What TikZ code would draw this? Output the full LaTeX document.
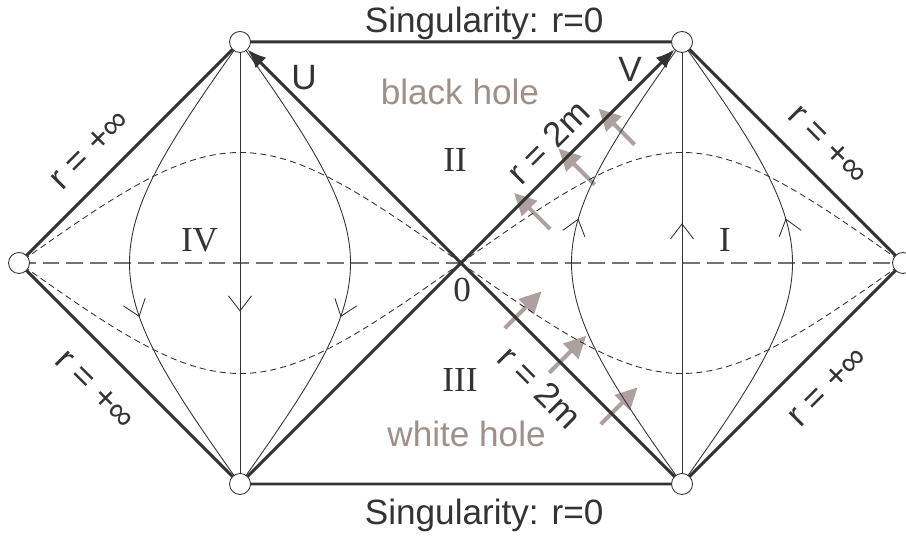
\documentclass[tikz,border=0pt]{standalone}
\usepackage{fontspec}
\setmainfont{Liberation Sans}
\newfontfamily\romfont{Liberation Serif}
\usetikzlibrary{arrows.meta,decorations.markings}

\definecolor{ink}{RGB}{51,51,51}
\definecolor{holecol}{RGB}{158,143,139}
\definecolor{flux}{RGB}{172,161,158}

\begin{document}
\begin{tikzpicture}[
  x=2.21cm,y=2.21cm,
  % event horizons and the boundary of the diagram
  horizon/.style={line width=1.7pt,draw=ink},
  world/.style={line width=0.5pt,draw=ink,color=ink},
  slice/.style={line width=0.5pt,draw=ink,dash pattern=on 3.5pt off 2.3pt},
  axis/.style={line width=0.7pt,draw=black!55,dash pattern=on 9.5pt off 4pt},
  flow/.style={postaction={decorate},decoration={markings,
    mark=at position #1 with {\arrow{Straight Barb[length=3mm,width=4.6mm]}}}},
  infall/.style={draw=flux,line width=2.3pt,-{Triangle[length=4.4mm,width=4.2mm]}},
  apex/.style={circle,draw=ink,line width=0.5pt,fill=white,minimum size=4.2mm,inner sep=0pt},
  lbl/.style={font=\fontsize{20}{24}\selectfont,text=ink,inner sep=0pt},
  num/.style={font=\fontsize{20}{24}\selectfont\romfont,text=ink,inner sep=0pt},
  hole/.style={lbl,text=holecol},
]
\useasboundingbox (-4.172,-2.489) rectangle (4.027,2.380);

%--- geometry ----------------------------------------------------------------
\def\cin{0.171573}     % r = const, inner hyperbola (crosses x=1)
\def\cout{5.828427}    % r = const, outer hyperbola (crosses x=3)
\def\kslice{0.171573}  % t = const slices, through (2,1) and (2,-1)

\coordinate (O)  at (0,0);
\coordinate (L)  at (-4,0);
\coordinate (R)  at (4,0);
\coordinate (TL) at (-2,2);
\coordinate (TR) at (2,2);
\coordinate (BL) at (-2,-2);
\coordinate (BR) at (2,-2);

%--- light rays crossing the horizons -----------------------------------------
\foreach \s in {0.557,0.959,1.321}
  \draw[infall] (\s+0.249,\s-0.249) -- (\s-0.077,\s+0.077);
\foreach \s in {0.493,0.896,1.362}
  \draw[infall] (\s-0.097,-\s-0.097) -- (\s+0.237,-\s+0.237);

%--- t = const slices ---------------------------------------------------------
\draw[axis] (L) -- (R);
\draw[slice] plot[domain=0:90,samples=150,variable=\th]
  ({(\th+atan2(\kslice*sin(\th),cos(\th)))/45},{(\th-atan2(\kslice*sin(\th),cos(\th)))/45});
\draw[slice] plot[domain=0:90,samples=150,variable=\th]
  ({(\th+atan2(\kslice*sin(\th),cos(\th)))/45},{(atan2(\kslice*sin(\th),cos(\th))-\th)/45});
\draw[slice] plot[domain=0:90,samples=150,variable=\th]
  ({-(\th+atan2(\kslice*sin(\th),cos(\th)))/45},{(\th-atan2(\kslice*sin(\th),cos(\th)))/45});
\draw[slice] plot[domain=0:90,samples=150,variable=\th]
  ({-(\th+atan2(\kslice*sin(\th),cos(\th)))/45},{(atan2(\kslice*sin(\th),cos(\th))-\th)/45});

%--- r = const world lines ----------------------------------------------------
% region I runs upwards, region IV downwards
\draw[world,flow=0.59] (BR) -- (TR);
\draw[world,flow=0.61] (TL) -- (BL);
\foreach \c in {\cin,\cout} {
  \draw[world,flow=0.59] plot[domain=0:90,samples=150,variable=\th]
    ({(\th+atan2(\c*cos(\th),sin(\th)))/45},{(\th-atan2(\c*cos(\th),sin(\th)))/45});
  \draw[world,flow=0.61] plot[domain=0:90,samples=150,variable=\th]
    ({-(\th+atan2(\c*cos(\th),sin(\th)))/45},{(atan2(\c*cos(\th),sin(\th))-\th)/45});
}

%--- horizons and boundary ----------------------------------------------------
\draw[horizon] (L) -- (TL) -- (TR) -- (R) -- (BR) -- (BL) -- cycle;
\draw[horizon,-{Latex[length=3.8mm,width=3mm]},shorten >=2.1mm] (O) -- (TL);
\draw[horizon,-{Latex[length=3.8mm,width=3mm]},shorten >=2.1mm] (O) -- (TR);
\draw[horizon] (O) -- (BL);
\draw[horizon] (O) -- (BR);

\foreach \p in {L,TL,TR,R,BL,BR}
  \node[apex] (c\p) at (\p) {};

%--- labels -------------------------------------------------------------------
\node[lbl,anchor=base] (singtop) at (0.21,2.09) {Singularity: r=0};
\node[lbl,anchor=base] (singbot) at (0.21,-2.37) {Singularity: r=0};
\node[hole,anchor=base] (bh) at (-0.01,1.43) {black hole};
\node[hole,anchor=base] (wh) at (0.05,-1.665) {white hole};
\node[lbl] (lU) at (-1.42,1.674) {U};
\node[lbl] (lV) at (1.53,1.756) {V};
\node[num] (rI) at (2.389,0.208) {I};
\node[num] (rII) at (-0.054,0.932) {II};
\node[num] (rIII) at (-0.01,-1.059) {III};
\node[num] (rIV) at (-2.366,0.208) {IV};
\node[num] (zero) at (0.01,-0.244) {0};
\node[lbl,rotate=45] (hzup) at (0.787,1.095) {r = 2m};
\node[lbl,rotate=-45] (hzdn) at (0.715,-1.122) {r = 2m};
\node[lbl,rotate=45] (infUL) at (-3.357,1.023) {r = +∞};
\node[lbl,rotate=-45] (infUR) at (3.321,1.068) {r = +∞};
\node[lbl,rotate=-45] (infLL) at (-3.312,-1.149) {r = +∞};
\node[lbl,rotate=45] (infLR) at (3.321,-1.122) {r = +∞};

\end{tikzpicture}
\end{document}
